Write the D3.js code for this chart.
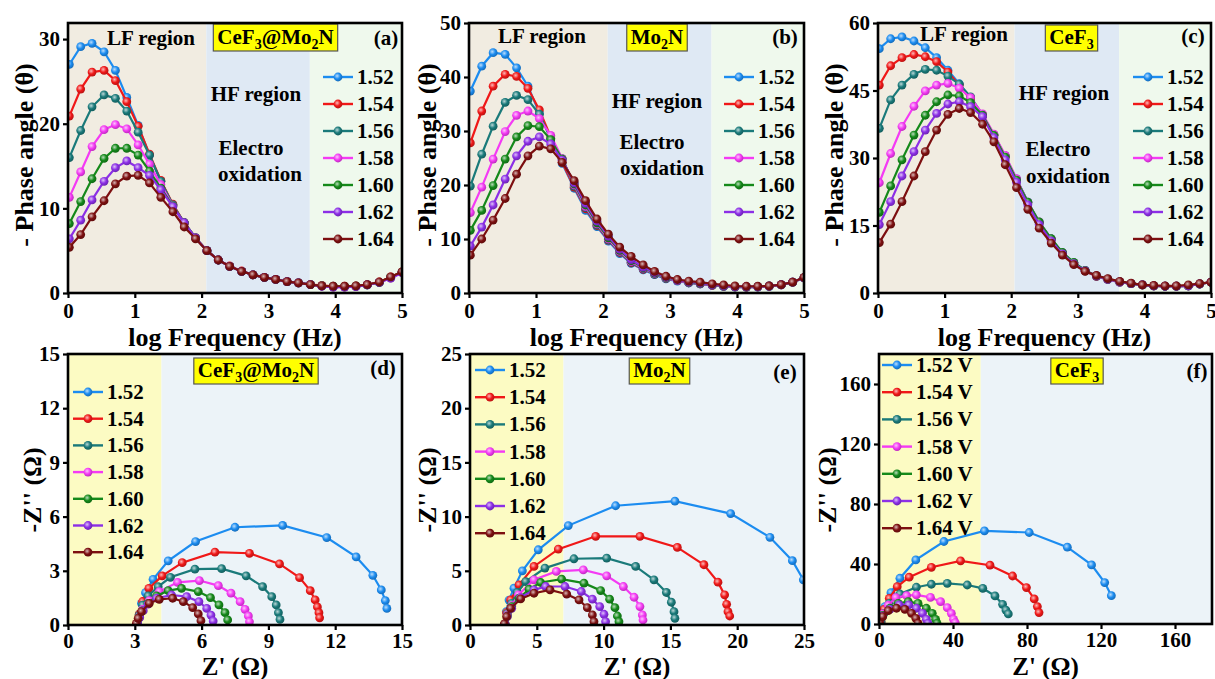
<!DOCTYPE html>
<html>
<head>
<meta charset="utf-8">
<script src="https://cdn.jsdelivr.net/npm/d3@7"></script>
<style>
  body { margin: 0; background: #fff; }
  svg { display: block; }
  text { font-family: "Liberation Serif", "Times New Roman", serif; font-weight: bold; fill: #000; }
</style>
</head>
<body>
<svg id="fig" width="1215" height="679"></svg>
<script>
// ---------- data ----------
const voltages = ["1.52", "1.54", "1.56", "1.58", "1.60", "1.62", "1.64"];

// log10 of frequency (Hz) for each Bode point
const logFreq = [0.02, 0.19, 0.36, 0.54, 0.71, 0.88, 1.05, 1.22, 1.39, 1.57,
                 1.74, 1.91, 2.08, 2.25, 2.42, 2.60, 2.77, 2.94, 3.11, 3.28,
                 3.45, 3.63, 3.80, 3.97, 4.14, 4.31, 4.48, 4.66, 4.83, 5.00];

// -phase angle (deg), one row per potential: CeF3@Mo2N
const phaseCeMo = [
  [27.0,29.1,29.5,28.5,26.3,23.1,19.8,16.3,13.2,10.4,8.3,6.5,5.0,3.9,3.15,2.55,2.15,1.85,1.6,1.35,1.2,1.0,0.85,0.75,0.75,0.8,0.95,1.25,1.85,2.45],
  [20.9,24.1,26.1,26.3,25.1,22.6,19.7,16.4,13.3,10.5,8.3,6.5,5.0,3.9,3.2,2.6,2.15,1.85,1.6,1.35,1.2,1.0,0.9,0.8,0.8,0.85,1.0,1.3,1.9,2.5],
  [16.0,19.2,22.0,23.4,23.0,21.5,19.0,16.3,13.2,10.4,8.3,6.5,5.0,3.9,3.15,2.55,2.15,1.85,1.6,1.35,1.2,1.0,0.85,0.8,0.75,0.8,0.95,1.25,1.85,2.45],
  [11.3,14.3,17.3,19.3,19.9,19.4,17.5,15.2,12.8,10.3,8.2,6.5,5.0,3.9,3.15,2.55,2.15,1.85,1.6,1.35,1.2,1.0,0.8,0.7,0.7,0.75,0.95,1.25,1.75,2.4],
  [8.2,10.8,13.5,15.9,17.1,17.1,16.3,14.4,12.4,10.3,8.3,6.5,5.0,3.9,3.15,2.55,2.15,1.85,1.6,1.35,1.2,1.0,0.85,0.75,0.75,0.8,0.95,1.25,1.85,2.45],
  [6.4,8.6,11.0,13.2,14.8,15.6,14.8,13.9,12.2,10.2,8.3,6.5,5.0,3.9,3.15,2.55,2.15,1.85,1.6,1.35,1.2,1.0,0.8,0.7,0.7,0.75,0.95,1.25,1.75,2.4],
  [5.4,6.9,9.0,10.9,12.9,13.8,13.9,13.0,11.3,9.6,7.8,6.4,5.0,3.9,3.15,2.55,2.15,1.85,1.6,1.35,1.2,1.0,0.85,0.8,0.8,0.85,1.0,1.3,1.9,2.5]
];

// -phase angle (deg): Mo2N
const phaseMo = [
  [37.4,42.0,44.5,44.2,41.7,38.3,33.3,28.6,24.0,19.4,15.3,12.3,9.6,7.3,5.5,4.3,3.4,2.6,2.2,1.85,1.7,1.4,1.2,1.1,1.1,1.1,1.2,1.5,2.0,2.8],
  [27.8,33.7,38.3,40.5,40.1,37.9,33.9,28.9,24.2,19.6,15.6,12.5,9.8,7.5,5.6,4.4,3.5,2.7,2.3,1.9,1.7,1.4,1.25,1.15,1.1,1.15,1.25,1.5,2.0,2.8],
  [19.8,25.7,30.9,35.3,36.6,35.8,33.1,28.6,24.9,19.8,15.8,12.6,9.9,7.6,5.7,4.5,3.5,2.7,2.3,1.9,1.7,1.45,1.25,1.15,1.1,1.15,1.25,1.5,2.0,2.8],
  [14.9,19.6,24.8,29.9,32.9,33.7,32.3,29.2,24.9,20.0,16.0,12.8,10.0,7.7,5.8,4.6,3.6,2.8,2.3,1.95,1.75,1.45,1.25,1.15,1.1,1.15,1.25,1.5,2.0,2.8],
  [11.6,15.3,19.9,24.8,28.9,31.0,30.8,28.4,24.8,20.2,16.3,13.0,10.2,7.9,6.0,4.7,3.7,2.9,2.4,2.0,1.8,1.5,1.3,1.2,1.15,1.2,1.3,1.55,2.0,2.85],
  [8.7,12.2,16.3,21.1,25.4,28.1,28.9,27.6,24.6,20.4,16.6,13.3,10.5,8.1,6.2,4.8,3.8,3.0,2.4,2.05,1.85,1.55,1.35,1.2,1.2,1.2,1.3,1.55,2.0,2.85],
  [7.0,10.0,13.5,17.5,22.0,25.4,27.2,26.7,24.2,20.8,17.1,13.7,10.9,8.5,6.8,5.2,4.0,3.1,2.5,2.2,2.0,1.7,1.5,1.3,1.25,1.25,1.3,1.55,2.0,2.9]
];

// -phase angle (deg): CeF3
const phaseCe = [
  [54.3,56.5,56.9,56.0,54.5,52.3,49.5,46.5,43.4,39.5,35.1,30.5,25.3,20.2,15.7,12.0,8.9,6.7,5.0,3.7,3.0,2.4,2.1,1.8,1.6,1.5,1.5,1.6,2.0,2.4],
  [46.2,50.5,52.3,53.0,52.5,51.4,49.1,46.2,43.0,39.4,35.0,30.3,25.2,20.0,15.6,11.9,8.8,6.6,4.9,3.7,3.0,2.4,2.1,1.8,1.6,1.5,1.5,1.6,2.0,2.4],
  [36.6,42.9,46.2,48.6,49.7,49.5,48.2,46.4,43.6,39.6,35.2,30.4,25.3,20.1,15.7,12.0,8.9,6.7,5.0,3.8,3.0,2.4,2.1,1.8,1.6,1.5,1.5,1.6,2.0,2.4],
  [24.5,31.0,37.0,41.5,44.9,46.2,46.6,45.5,43.4,39.8,35.3,30.6,25.4,20.2,15.8,12.0,8.9,6.7,5.0,3.8,3.0,2.4,2.1,1.8,1.6,1.5,1.5,1.6,2.0,2.4],
  [17.9,23.8,29.6,35.1,39.5,42.5,44.0,43.8,42.3,39.5,35.0,30.2,25.1,20.2,15.8,12.1,9.0,6.8,5.0,3.8,3.1,2.5,2.1,1.8,1.6,1.5,1.5,1.6,2.0,2.4],
  [15.2,20.3,26.0,31.4,36.2,39.9,42.0,42.5,41.4,39.2,34.5,29.6,24.6,19.6,15.2,11.6,8.7,6.5,4.9,3.8,3.1,2.5,2.1,1.8,1.6,1.5,1.5,1.6,2.0,2.4],
  [11.2,15.3,20.3,26.0,31.4,36.2,39.7,41.0,40.1,37.5,33.6,28.5,23.4,18.6,14.4,11.1,8.4,6.3,4.8,3.9,3.2,2.6,2.2,1.8,1.7,1.6,1.6,1.8,2.1,2.4]
];

// Nyquist points [Z', -Z''] (ohm): CeF3@Mo2N
const nyqCeMo = [
  [[3.12,0.1],[3.2,0.6],[3.3,1.2],[3.48,1.79],[3.82,2.53],[4.5,3.55],[5.73,4.62],[7.5,5.41],[9.64,5.51],[11.62,4.84],[12.94,3.77],[13.69,2.75],[14.07,1.94],[14.25,1.35],[14.32,0.92]],
  [[3.12,0.1],[3.2,0.6],[3.35,1.3],[3.63,2.03],[4.23,2.72],[5.13,3.45],[6.6,4.03],[8.15,3.97],[9.5,3.38],[10.4,2.62],[10.88,1.9],[11.1,1.39],[11.2,1.0],[11.27,0.68],[11.3,0.4]],
  [[3.12,0.1],[3.2,0.55],[3.35,1.1],[3.6,1.61],[4.05,2.12],[4.6,2.64],[5.7,3.09],[6.9,3.12],[8.0,2.72],[8.74,2.12],[9.15,1.57],[9.35,1.11],[9.45,0.68],[9.52,0.31]],
  [[3.12,0.1],[3.2,0.45],[3.35,0.87],[3.65,1.35],[4.1,1.85],[4.92,2.36],[5.9,2.46],[6.75,2.18],[7.32,1.76],[7.73,1.29],[7.95,0.87],[8.1,0.5],[8.15,0.18]],
  [[3.12,0.09],[3.2,0.42],[3.35,0.79],[3.6,1.2],[3.98,1.61],[4.5,1.9],[5.1,2.03],[5.85,1.85],[6.4,1.51],[6.78,1.11],[7.05,0.68],[7.17,0.28]],
  [[3.12,0.09],[3.22,0.41],[3.38,0.79],[3.6,1.16],[3.98,1.48],[4.65,1.66],[5.33,1.57],[5.88,1.29],[6.23,0.92],[6.42,0.55],[6.52,0.22]],
  [[3.07,0.09],[3.15,0.37],[3.3,0.74],[3.65,1.2],[4.1,1.42],[4.7,1.48],[5.18,1.29],[5.6,0.96],[5.85,0.61],[5.97,0.24]]
];

// Nyquist points: Mo2N
const nyqMo = [
  [[2.62,0.1],[2.72,1.23],[2.92,2.3],[3.29,3.4],[3.92,5.0],[5.11,6.94],[7.36,9.17],[10.9,11.0],[15.34,11.42],[19.51,10.28],[22.45,8.09],[24.13,5.93],[24.95,4.17]],
  [[2.62,0.1],[2.74,1.14],[3.04,2.31],[3.67,3.7],[4.79,5.4],[6.61,7.0],[9.41,8.18],[12.72,8.18],[15.52,7.16],[17.51,5.56],[18.56,3.95],[19.06,2.78],[19.21,1.91],[19.31,1.23],[19.44,0.83]],
  [[2.62,0.1],[2.8,1.08],[3.12,2.0],[3.54,3.0],[4.17,4.0],[5.61,5.25],[7.78,6.11],[10.23,6.17],[12.4,5.4],[13.77,4.17],[14.7,3.0],[15.07,2.1],[15.27,1.23],[15.34,0.62]],
  [[2.62,0.1],[2.79,0.93],[3.12,1.79],[3.62,2.78],[4.79,4.17],[6.46,4.94],[8.48,5.09],[10.23,4.54],[11.48,3.55],[12.28,2.56],[12.72,1.7],[12.9,0.93],[12.95,0.46]],
  [[2.62,0.1],[2.79,0.83],[3.12,1.7],[3.67,2.47],[4.42,3.3],[5.29,3.92],[6.86,4.23],[8.53,3.86],[9.78,3.18],[10.45,2.38],[10.85,1.6],[11.03,0.83],[11.15,0.31]],
  [[2.62,0.1],[2.79,0.77],[3.12,1.54],[3.79,2.53],[4.79,3.24],[5.66,3.55],[7.11,3.55],[8.33,3.09],[9.16,2.38],[9.71,1.7],[10.03,0.99],[10.15,0.31]],
  [[2.57,0.1],[2.74,0.77],[3.04,1.54],[3.79,2.41],[4.79,2.93],[5.99,3.24],[7.24,2.84],[8.16,2.31],[8.78,1.6],[9.16,0.93],[9.28,0.31]]
];

// Nyquist points: CeF3
const nyqCe = [
  [[1.1,2.7],[3.2,11.6],[6.45,20.9],[11.3,30.5],[19.9,42.7],[35.1,55.0],[57.0,62.1],[81.2,61.0],[101.8,51.2],[114.9,39.4],[122.0,27.6],[125.6,18.9]],
  [[1.1,1.5],[2.7,9.8],[5.55,17.1],[9.85,24.9],[16.3,31.2],[28.3,37.8],[44.1,42.1],[60.0,39.2],[72.2,32.0],[79.7,24.3],[83.9,16.7],[85.6,11.6],[86.5,7.6]],
  [[1.1,0.9],[2.7,7.1],[5.55,13.8],[11.3,20.0],[20.2,24.5],[28.3,26.5],[36.9,27.1],[47.7,26.0],[56.1,23.8],[62.7,18.7],[66.8,13.1],[68.6,9.3],[69.9,6.7]],
  [[0.5,0.4],[2.0,6.7],[5.0,12.5],[9.1,17.6],[14.9,18.9],[20.2,19.4],[27.8,17.8],[33.3,14.9],[36.9,10.9],[39.1,7.1],[40.3,3.1],[41.2,0.9]],
  [[0.5,0.4],[2.0,5.8],[5.9,10.5],[10.4,13.8],[15.8,14.9],[21.1,13.8],[25.6,10.5],[28.8,7.1],[30.6,3.1],[31.4,0.4]],
  [[0.5,0.4],[2.0,5.3],[5.9,9.8],[10.9,12.7],[16.1,12.7],[20.2,10.5],[23.5,7.1],[25.6,3.1],[26.5,0.4]],
  [[0.5,0.4],[2.0,4.9],[5.0,8.9],[9.5,10.5],[14.0,9.8],[17.6,7.1],[19.9,3.8],[21.1,0.4]]
];

// region boundaries (x data units)
const bodeRegionsCeMo = [0, 2.07, 3.62, 5];
const bodeRegionsMo = [0, 2.07, 3.62, 5];
const bodeRegionsCe = [0, 2.05, 3.62, 5];
const nyqRegionsCeMo = [0, 4.2, 15];
const nyqRegionsMo = [0, 7.0, 25];
const nyqRegionsCe = [0, 55, 180];

// tick values
const bodeXTicks = [0, 1, 2, 3, 4, 5];
const yTicksA = [0, 10, 20, 30];
const yTicksB = [0, 10, 20, 30, 40, 50];
const yTicksC = [0, 15, 30, 45, 60];
const ticksD = [0, 3, 6, 9, 12, 15];
const ticksE = [0, 5, 10, 15, 20, 25];
const ticksF = [0, 40, 80, 120, 160];

// ---------- styles ----------
const seriesColors = ["#1c8cf0", "#f01818", "#1a7a7a", "#f43af4", "#15891a", "#8c2fe6", "#7d0f10"];
const bodeBg = ["#f1ece1", "#dfe9f4", "#eff9ed"];
const nyqBg = ["#fcfbc3", "#ecf3f8"];

const svg = d3.select("#fig");
const defs = svg.append("defs");
seriesColors.forEach((c, i) => {
  const gr = defs.append("radialGradient").attr("id", "ball" + i)
    .attr("cx", "40%").attr("cy", "38%").attr("r", "62%");
  gr.append("stop").attr("offset", "0%").attr("stop-color", d3.interpolateRgb(c, "#ffffff")(0.7));
  gr.append("stop").attr("offset", "55%").attr("stop-color", c);
  gr.append("stop").attr("offset", "100%").attr("stop-color", d3.color(c).darker(0.7));
});

const panels = [
  { id: "a", box: [68, 23, 402, 293], xd: [0, 5], yd: [0, 31.9], xt: bodeXTicks, yt: yTicksA,
    series: phaseCeMo.map(r => r.map((v, i) => [logFreq[i], v])), regions: bodeRegionsCeMo, bg: bodeBg,
    xTitle: "log Frequency (Hz)", yTitle: "- Phase angle (\u03b8)", xTitleY: 346, xTitleSize: 26, tickPad: 5,
    yTitleX: 24, yTitleY: 155,
    tag: [["CeF"], ["3", 1], ["@Mo"], ["2", 1], ["N"]], tagX: 275.5, tagBox: [24, 27], tagBase: 44,
    letter: ["(a)", 386, 45],
    notes: [["LF region", 151, 45], ["HF region", 256, 101], ["Electro", 251, 155], ["oxidation", 260, 181]],
    legend: { x: 323, y: 77, dy: 27, suffix: "" } },
  { id: "b", box: [469, 23, 804, 293], xd: [0, 5], yd: [0, 50], xt: bodeXTicks, yt: yTicksB,
    series: phaseMo.map(r => r.map((v, i) => [logFreq[i], v])), regions: bodeRegionsMo, bg: bodeBg,
    xTitle: "log Frequency (Hz)", yTitle: "- Phase angle (\u03b8)", xTitleY: 346, xTitleSize: 26, tickPad: 5,
    yTitleX: 427, yTitleY: 155,
    tag: [["Mo"], ["2", 1], ["N"]], tagX: 657, tagBox: [24, 27], tagBase: 44,
    letter: ["(b)", 785, 44],
    notes: [["LF region", 542, 43], ["HF region", 657, 108], ["Electro", 652, 149], ["oxidation", 662, 175]],
    legend: { x: 724, y: 77, dy: 27, suffix: "" } },
  { id: "c", box: [878, 23, 1211, 293], xd: [0, 5], yd: [0, 60], xt: bodeXTicks, yt: yTicksC,
    series: phaseCe.map(r => r.map((v, i) => [logFreq[i], v])), regions: bodeRegionsCe, bg: bodeBg,
    xTitle: "log Frequency (Hz)", yTitle: "- Phase angle (\u03b8)", xTitleY: 346, xTitleSize: 26, tickPad: 5,
    yTitleX: 834, yTitleY: 155,
    tag: [["CeF"], ["3", 1]], tagX: 1071.5, tagBox: [25, 26], tagBase: 44,
    letter: ["(c)", 1193, 43],
    notes: [["LF region", 964, 41], ["HF region", 1064, 100], ["Electro", 1058, 156], ["oxidation", 1068, 183]],
    legend: { x: 1133, y: 77, dy: 27, suffix: "" } },
  { id: "d", box: [68, 354, 402, 625], xd: [0, 15], yd: [0, 15], xt: ticksD, yt: ticksD,
    series: nyqCeMo, regions: nyqRegionsCeMo, bg: nyqBg,
    xTitle: "Z' (\u03a9)", yTitle: "-Z'' (\u03a9)", xTitleY: 675, xTitleSize: 25, tickPad: 3,
    yTitleX: 32, yTitleY: 490,
    tag: [["CeF"], ["3", 1], ["@Mo"], ["2", 1], ["N"]], tagX: 256, tagBox: [358, 26], tagBase: 377,
    letter: ["(d)", 383, 375], notes: [],
    legend: { x: 73, y: 392, dy: 26.7, suffix: "" } },
  { id: "e", box: [470, 354, 804, 625], xd: [0, 25], yd: [0, 25], xt: ticksE, yt: ticksE,
    series: nyqMo, regions: nyqRegionsMo, bg: nyqBg,
    xTitle: "Z' (\u03a9)", yTitle: "-Z'' (\u03a9)", xTitleY: 675, xTitleSize: 25, tickPad: 3,
    yTitleX: 427, yTitleY: 490,
    tag: [["Mo"], ["2", 1], ["N"]], tagX: 659.5, tagBox: [358, 26], tagBase: 377,
    letter: ["(e)", 785, 379], notes: [],
    legend: { x: 475, y: 370, dy: 27.2, suffix: "" } },
  { id: "f", box: [879, 354, 1212, 624], xd: [0, 180], yd: [0, 180], xt: ticksF, yt: ticksF,
    series: nyqCe, regions: nyqRegionsCe, bg: nyqBg,
    xTitle: "Z' (\u03a9)", yTitle: "-Z'' (\u03a9)", xTitleY: 675, xTitleSize: 25, tickPad: 3,
    yTitleX: 827, yTitleY: 490,
    tag: [["CeF"], ["3", 1]], tagX: 1077, tagBox: [358, 26], tagBase: 377,
    letter: ["(f)", 1197, 378], notes: [],
    legend: { x: 882, y: 365, dy: 27.2, suffix: " V" } }
];

function drawPanel(p) {
  const [x0, y0, x1, y1] = p.box;
  const g = svg.append("g").attr("class", "panel-" + p.id);
  const x = d3.scaleLinear().domain(p.xd).range([x0, x1]);
  const y = d3.scaleLinear().domain(p.yd).range([y1, y0]);

  // shaded regions
  for (let k = 0; k < p.regions.length - 1; k++) {
    g.append("rect")
      .attr("x", x(p.regions[k])).attr("y", y0)
      .attr("width", x(p.regions[k + 1]) - x(p.regions[k])).attr("height", y1 - y0)
      .attr("fill", p.bg[k]);
  }

  // annotations
  p.notes.forEach(([t, tx, ty]) => {
    g.append("text").attr("x", tx).attr("y", ty).attr("text-anchor", "middle")
      .attr("font-size", 21).text(t);
  });
  g.append("text").attr("x", p.letter[1]).attr("y", p.letter[2]).attr("text-anchor", "middle")
    .attr("font-size", 21).text(p.letter[0]);

  // material tag with subscripts on a yellow box
  const tg = g.append("g");
  const rect = tg.append("rect");
  const tt = tg.append("text").attr("x", p.tagX).attr("y", p.tagBase)
    .attr("text-anchor", "middle").attr("font-size", 21);
  let shifted = false;
  p.tag.forEach(([s, sub]) => {
    const ts = tt.append("tspan").text(s);
    if (sub) { ts.attr("font-size", 14).attr("dy", shifted ? 0 : 5); shifted = true; }
    else { if (shifted) ts.attr("dy", -5); shifted = false; }
  });
  const bb = tt.node().getBBox();
  rect.attr("x", bb.x - 4).attr("y", p.tagBox[0]).attr("width", bb.width + 8).attr("height", p.tagBox[1])
    .attr("fill", "#ffff00").attr("stroke", "#555").attr("stroke-width", 1.2);

  // clipped data layer
  const clipId = "clip-" + p.id;
  defs.append("clipPath").attr("id", clipId).append("rect")
    .attr("x", x0).attr("y", y0).attr("width", x1 - x0).attr("height", y1 - y0);
  const dg = g.append("g").attr("clip-path", `url(#${clipId})`);
  const line = d3.line().x(d => x(d[0])).y(d => y(d[1]));
  p.series.forEach((s, i) => {
    const sg = dg.append("g");
    sg.append("path").attr("d", line(s)).attr("fill", "none")
      .attr("stroke", seriesColors[i]).attr("stroke-width", 2.2);
    sg.selectAll("circle").data(s).join("circle")
      .attr("cx", d => x(d[0])).attr("cy", d => y(d[1])).attr("r", 4.4)
      .attr("fill", `url(#ball${i})`);
  });

  // legend
  const L = p.legend;
  voltages.forEach((v, i) => {
    const ly = L.y + i * L.dy;
    g.append("line").attr("x1", L.x).attr("x2", L.x + 30).attr("y1", ly).attr("y2", ly)
      .attr("stroke", seriesColors[i]).attr("stroke-width", 2.4);
    g.append("circle").attr("cx", L.x + 15).attr("cy", ly).attr("r", 4.4).attr("fill", `url(#ball${i})`);
    g.append("text").attr("x", L.x + 34).attr("y", ly + 7).attr("font-size", 21).text(v + L.suffix);
  });

  // frame
  g.append("rect").attr("x", x0).attr("y", y0).attr("width", x1 - x0).attr("height", y1 - y0)
    .attr("fill", "none").attr("stroke", "#000").attr("stroke-width", 2.6);

  // axes
  const fmt = d3.format("d");
  const ax = g.append("g").attr("transform", `translate(0,${y1})`)
    .call(d3.axisBottom(x).tickValues(p.xt).tickSize(5).tickPadding(p.tickPad).tickFormat(fmt));
  const ay = g.append("g").attr("transform", `translate(${x0},0)`)
    .call(d3.axisLeft(y).tickValues(p.yt).tickSize(5).tickPadding(3).tickFormat(fmt));
  [ax, ay].forEach(a => {
    a.attr("font-family", null).attr("font-size", 21);
    a.select(".domain").remove();
    a.selectAll(".tick line").attr("stroke", "#000").attr("stroke-width", 2.2);
    a.selectAll(".tick text").attr("fill", "#000").attr("font-weight", "bold");
  });

  // axis titles
  g.append("text").attr("x", (x0 + x1) / 2).attr("y", p.xTitleY).attr("text-anchor", "middle")
    .attr("font-size", p.xTitleSize).text(p.xTitle);
  g.append("text").attr("transform", `translate(${p.yTitleX},${p.yTitleY}) rotate(-90)`)
    .attr("text-anchor", "middle").attr("dy", "0.35em").attr("font-size", 26).text(p.yTitle);
}

panels.forEach(drawPanel);
</script>
</body>
</html>
